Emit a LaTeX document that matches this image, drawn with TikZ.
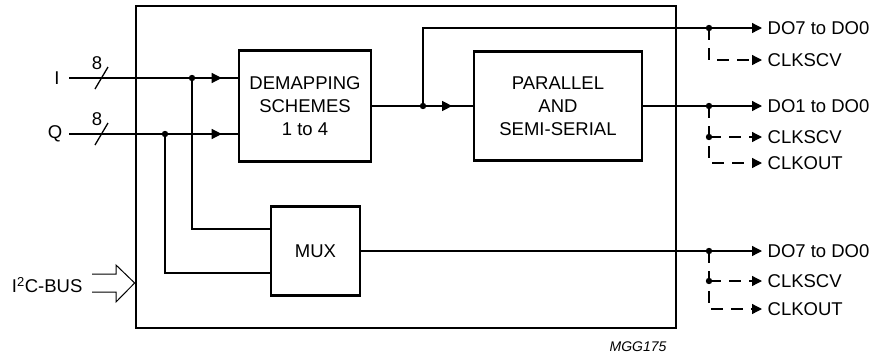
\documentclass[tikz,border=0pt]{standalone}
\usepackage{fontspec}
\setmainfont{Liberation Sans}
\usetikzlibrary{arrows.meta, decorations.markings}

\begin{document}
\begin{tikzpicture}[
            x = 1pt, y = -1pt, % pixel-like coordinates
            > = {Triangle[length=10pt, width=10pt]}, % arrow head style
            line width = 1.3pt, % line style
            font = \fontsize{18.5}{23}\selectfont,
            flow at/.style = {postaction = {decorate},
                decoration = {markings, mark = at position #1 with {\arrow{>}}}}
        ]

        \tikzstyle{block}=[draw, line width = 2.9pt, align = center, inner sep = 0pt]
        \tikzstyle{lbl}=[anchor = west, inner sep = 3pt]
        \tikzstyle{outarrow}=[->, shorten > = 2pt]
        \tikzstyle{clk}=[dash pattern = on 12pt off 8pt]

        \useasboundingbox (0,0) rectangle (876,359);

        % chip outline and blocks
        \node[block, line width = 2.7pt, minimum width = 540pt, minimum height = 322pt] (chip) at (406,167) {};
        \node[block, minimum width = 132pt, minimum height = 111pt] (demap) at (305,106) {DEMAPPING\\SCHEMES\\1 to 4};
        \node[block, minimum width = 168pt, minimum height = 109pt] (par) at (558,106) {PARALLEL\\AND\\SEMI-SERIAL};
        \node[block, minimum width = 89pt, minimum height = 89pt] (mux) at (315.5,251) {MUX};

        % inputs
        \node (i) at (57,78) {I};
        \node (q) at (55,134) {Q};
        \node (ibits) at (97,63) {8};
        \node (qbits) at (97,119) {8};
        \coordinate (iin) at (69,78);
        \coordinate (qin) at (69,134);
        \coordinate (ijn) at (192,78);
        \coordinate (qjn) at (165,134);

	\draw[flow at = 0.906] (iin) -- (demap.west |- iin);
	\draw[flow at = 0.906] (qin) -- (demap.west |- qin);
	\draw (95,89) -- (108,67);
	\draw (95,145) -- (108,123);
	\draw (ijn) |- ([yshift = 22pt]mux.west);
	\draw (qjn) |- ([yshift = -22pt]mux.west);
	\fill (ijn) circle (3.2pt);
	\fill (qjn) circle (3.2pt);

        % I2C-bus
        \node[anchor = east, inner sep = 1pt] (bus) at (84,285) {I\textsuperscript{2}C-BUS};
	\draw[line width = 1pt] (92,274) -- (116,274) -- (116,265) -- (chip.west |- 0,283)
	    -- (116,302) -- (116,292) -- (92,292);

        % outputs
        \coordinate (djn) at (423,106);
        \coordinate (tjn) at (709,28);
        \coordinate (pjn) at (709,106);
        \coordinate (mjn) at (709,251);

	\draw[flow at = 0.796] (demap.east) -- (par.west);
	\draw (djn) |- (tjn);
	\draw (par.east) -- (pjn);
	\draw (mux.east) -- (mjn);

        \node[lbl] (do1) at (764,28) {DO7 to DO0};
        \node[lbl] (clk1) at (764,60) {CLKSCV};
        \node[lbl] (do2) at (764,106) {DO1 to DO0};
        \node[lbl] (clk2) at (764,137) {CLKSCV};
        \node[lbl] (out2) at (764,163) {CLKOUT};
        \node[lbl] (do3) at (764,251) {DO7 to DO0};
        \node[lbl] (clk3) at (764,281) {CLKSCV};
        \node[lbl] (out3) at (764,309) {CLKOUT};
        \coordinate (pclk) at (pjn |- clk2);
        \coordinate (mclk) at (mjn |- clk3);

	\draw[outarrow] (tjn) -- (do1);
	\draw[outarrow, clk] (tjn) |- (clk1);
	\draw[outarrow] (pjn) -- (do2);
	\draw[outarrow, clk] (pjn) |- (out2);
	\draw[outarrow, clk] (pclk) -- (clk2);
	\draw[outarrow] (mjn) -- (do3);
	\draw[outarrow, clk] (mjn) |- (out3);
	\draw[outarrow, clk] (mclk) -- (clk3);

	\foreach \p in {djn, tjn, pjn, mjn, pclk, mclk}
	    \fill (\p) circle (3.2pt);

        \node[font = \fontsize{14}{16}\selectfont\itshape] (code) at (638,347) {MGG175};
    \end{tikzpicture}
\end{document}
